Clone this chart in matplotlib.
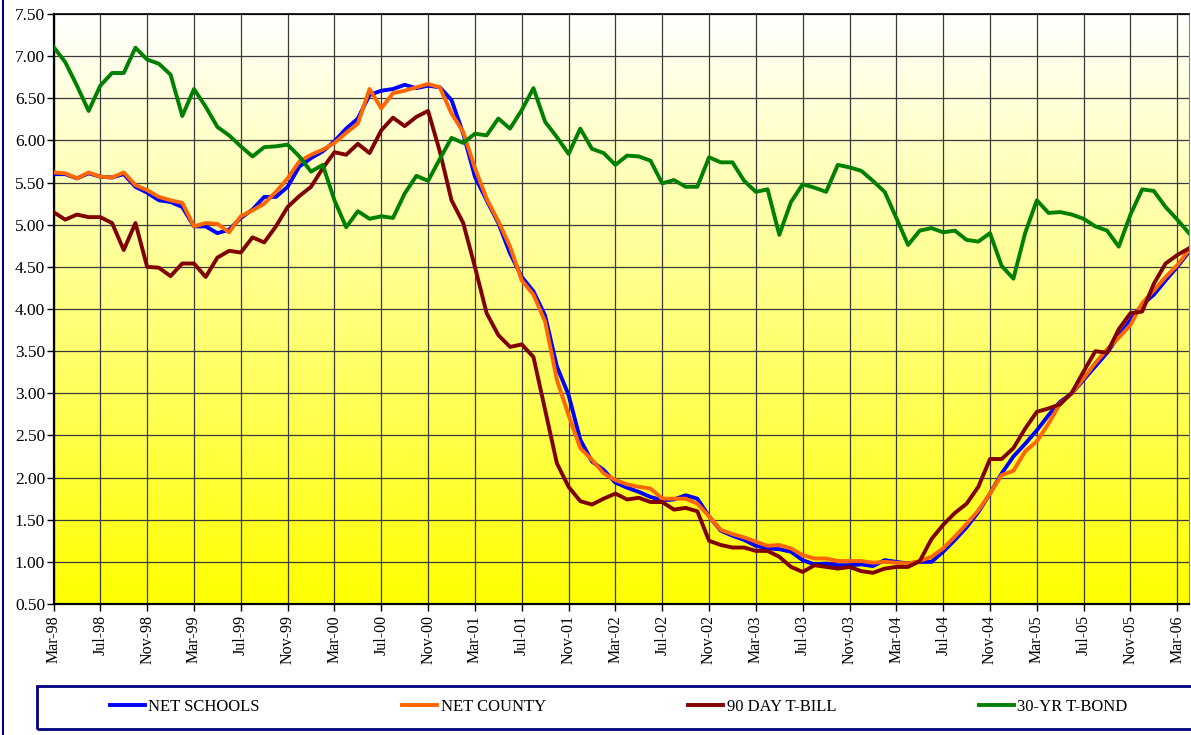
import matplotlib
matplotlib.use("Agg")
import matplotlib.pyplot as plt
import numpy as np
import pandas as pd
from matplotlib.colors import LinearSegmentedColormap
from matplotlib.patches import Rectangle
from matplotlib.lines import Line2D

months = pd.date_range("1998-03-01", periods=98, freq="MS")
month_labels = [m.strftime("%b-%y") for m in months]

net_schools = [
    5.60, 5.60, 5.55, 5.61, 5.57, 5.56, 5.60, 5.45, 5.38, 5.29, 5.27, 5.21, 4.98, 4.98, 4.90,
    4.94, 5.08, 5.18, 5.33, 5.33, 5.45, 5.69, 5.79, 5.87, 5.99, 6.14, 6.26, 6.54, 6.59, 6.61,
    6.66, 6.62, 6.65, 6.63, 6.48, 6.08, 5.57, 5.29, 5.02, 4.66, 4.38, 4.21, 3.92,
    3.32, 2.98, 2.45, 2.19, 2.09, 1.94, 1.88, 1.83, 1.77, 1.73, 1.74, 1.79, 1.75, 1.54, 1.37,
    1.31, 1.26, 1.19, 1.16, 1.15, 1.12,
    1.02, 0.97, 0.98, 0.96, 0.96, 0.97, 0.95, 1.02, 1.00, 0.98, 1.00, 1.00, 1.12, 1.26, 1.41,
    1.59, 1.81, 2.05, 2.25, 2.40, 2.56, 2.74, 2.90, 3.00, 3.16, 3.32, 3.48, 3.68, 3.87, 4.05,
    4.17, 4.34, 4.50, 4.68,
]

net_county = [
    5.62, 5.61, 5.55, 5.62, 5.57, 5.56, 5.62, 5.47, 5.41, 5.33, 5.29, 5.26, 4.98, 5.02, 5.01,
    4.91, 5.10, 5.17, 5.25, 5.39, 5.55, 5.75, 5.83, 5.89, 5.97, 6.09, 6.20, 6.61, 6.38, 6.56,
    6.59, 6.63, 6.67, 6.63, 6.32, 6.10, 5.67, 5.31, 5.04, 4.74, 4.34, 4.17, 3.85,
    3.16, 2.74, 2.35, 2.21, 2.05, 1.97, 1.92, 1.89, 1.87, 1.75, 1.75, 1.75, 1.69, 1.54, 1.38,
    1.33, 1.29, 1.24, 1.19, 1.20, 1.16,
    1.08, 1.04, 1.04, 1.01, 1.01, 1.01, 0.99, 1.00, 0.99, 0.98, 1.01, 1.06, 1.16, 1.30, 1.45,
    1.61, 1.81, 2.03, 2.08, 2.31, 2.43, 2.64, 2.88, 3.00, 3.18, 3.36, 3.52, 3.66, 3.81, 4.07,
    4.22, 4.38, 4.52, 4.70,
]

t_bill_90 = [
    5.15, 5.06, 5.12, 5.09, 5.09, 5.02, 4.70, 5.02, 4.50, 4.49, 4.39, 4.54, 4.54, 4.38, 4.61,
    4.69, 4.67, 4.85, 4.79, 4.98, 5.21, 5.34, 5.45, 5.67, 5.86, 5.83, 5.96, 5.85, 6.12, 6.27,
    6.17, 6.28, 6.35, 5.87, 5.29, 5.02, 4.50,
    3.95, 3.69, 3.55, 3.58, 3.43, 2.80, 2.17, 1.89, 1.72, 1.68, 1.75, 1.81, 1.74, 1.76, 1.71,
    1.71, 1.62, 1.64, 1.60, 1.25, 1.20, 1.17, 1.17, 1.13, 1.13, 1.06, 0.94,
    0.88, 0.96, 0.94, 0.92, 0.94, 0.89, 0.87, 0.92, 0.94, 0.94, 1.01, 1.27, 1.44, 1.58, 1.69,
    1.89, 2.22, 2.22, 2.35, 2.58, 2.78, 2.82, 2.87, 3.01, 3.26, 3.50, 3.48, 3.76, 3.95, 3.97,
    4.30, 4.54, 4.64, 4.72,
]

t_bond_30 = [
    7.11, 6.93, 6.65, 6.35, 6.65, 6.80, 6.80, 7.10, 6.96, 6.91, 6.78, 6.29, 6.61, 6.40, 6.16,
    6.06, 5.93, 5.81, 5.92, 5.93, 5.95, 5.81, 5.63, 5.71, 5.29, 4.97, 5.16, 5.07, 5.10, 5.08,
    5.37, 5.58, 5.52, 5.78, 6.03, 5.97, 6.08, 6.06, 6.26, 6.14, 6.36, 6.62, 6.22, 6.04, 5.84,
    6.14, 5.90, 5.85, 5.71, 5.82, 5.81, 5.76, 5.49, 5.53, 5.45, 5.45, 5.80, 5.74, 5.74, 5.52,
    5.39, 5.42, 4.88, 5.27, 5.48, 5.44, 5.39, 5.71, 5.68, 5.64, 5.52, 5.39, 5.08, 4.76, 4.93,
    4.96, 4.91, 4.93, 4.82, 4.80, 4.90, 4.51, 4.36, 4.90, 5.29, 5.14, 5.15, 5.12, 5.07, 4.98,
    4.93, 4.74, 5.12, 5.42, 5.40, 5.21, 5.06, 4.90,
]

series_names = ["NET SCHOOLS", "NET COUNTY", "90 DAY T-BILL", "30-YR T-BOND"]
series_colors = ["#0000FF", "#FF6600", "#800000", "#008000"]
y_ticks = [0.5, 1.0, 1.5, 2.0, 2.5, 3.0, 3.5, 4.0, 4.5, 5.0, 5.5, 6.0, 6.5, 7.0, 7.5]

plt.rcParams["font.family"] = ["Liberation Serif", "DejaVu Serif"]

fig = plt.figure(figsize=(11.91, 7.35), dpi=100)
ax = fig.add_axes([53.5 / 1191, 1 - 604 / 735, (1189 - 53.5) / 1191, 590 / 735])

x = np.arange(len(month_labels))
last = len(month_labels) - 1

# yellow -> white backdrop
cmap = LinearSegmentedColormap.from_list("bg", ["#FFFF00", "#FFFFFF"])
ax.imshow(np.linspace(0, 1, 256).reshape(-1, 1), extent=[0, last, 0.5, 7.5],
          aspect="auto", cmap=cmap, origin="lower", zorder=0)

for values, name, color in zip([net_schools, net_county, t_bill_90, t_bond_30],
                               series_names, series_colors):
    ax.plot(x, values, color=color, linewidth=2.8, label=name, zorder=3)

ax.set_xlim(0, last)
ax.set_ylim(0.5, 7.5)
ax.set_yticks(y_ticks)
ax.set_yticklabels([f"{v:.2f}" for v in y_ticks], fontsize=12.5)
tick_pos = x[::4]
ax.set_xticks(tick_pos)
ax.set_xticklabels([month_labels[i] for i in tick_pos], rotation=90, fontsize=11.5)
ax.tick_params(axis="y", direction="out", length=5, width=1, pad=1)
ax.tick_params(axis="x", direction="out", length=5, width=1, pad=3)

ax.grid(True, color="#3a3a3a", linewidth=0.9, zorder=1)
ax.spines["left"].set_linewidth(1.6)
ax.spines["bottom"].set_linewidth(1.6)
ax.spines["top"].set_linewidth(1.2)
ax.spines["right"].set_color("#888888")

# outer chart border on the left and the legend frame
fig.add_artist(Line2D([2.5 / 1191, 2.5 / 1191], [0, 1], color="#000080", linewidth=1.5))
fig.add_artist(Rectangle((37 / 1191, 1 - 729 / 735), (1200 - 37) / 1191, 43 / 735,
                         fill=False, edgecolor="#000080", linewidth=2, clip_on=False))

fig.legend(loc="center left", bbox_to_anchor=(110 / 1191, 1 - 707 / 735), ncol=4,
           frameon=False, fontsize=12, handlelength=2.1, handletextpad=0.2,
           columnspacing=8.55, borderpad=0, borderaxespad=0)

fig.savefig("out.png", dpi=100)
